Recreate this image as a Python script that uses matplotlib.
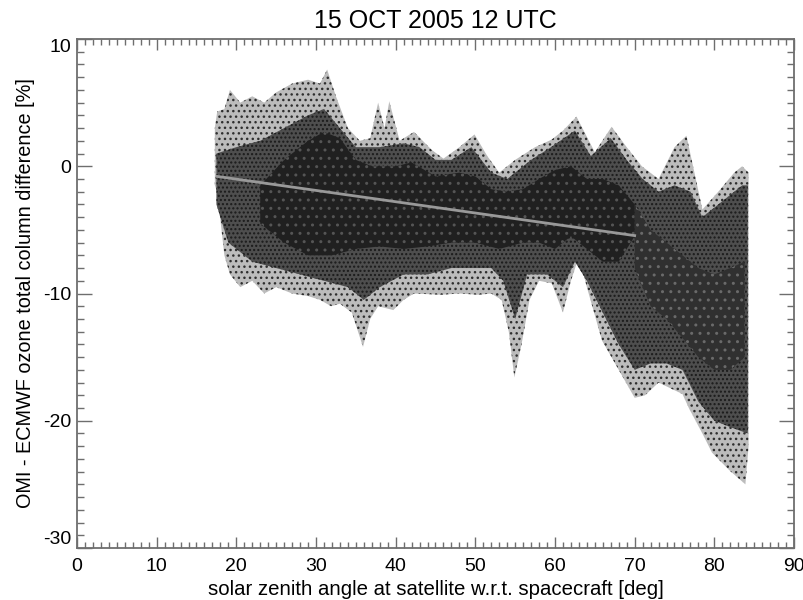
from __future__ import annotations

import matplotlib

matplotlib.use("Agg")
import matplotlib.pyplot as plt
import numpy as np
from matplotlib.ticker import MultipleLocator

plt.rcParams["font.family"] = ["Liberation Sans", "DejaVu Sans"]
plt.rcParams["axes.unicode_minus"] = False
plt.rcParams["hatch.linewidth"] = 1.0

# envelope of the sparse outer scatter
outer_top_x = [17.3, 17.6, 18.5, 19.2, 20.5, 22.0, 23.5, 25.0, 27.0, 29.0, 30.5, 31.4,
               32.5, 34.0, 35.5, 36.8, 37.8, 38.6, 39.2, 40.5, 42.3, 44.5, 46.0, 48.0,
               49.9, 51.5, 53.0, 55.0, 57.5, 59.6, 61.0, 62.7, 65.0, 67.1, 69.0, 70.9,
               73.0, 75.0, 76.5, 78.5, 80.5, 82.5, 83.5, 84.3]
outer_top_y = [3.0, 4.3, 4.5, 6.0, 5.0, 5.5, 5.0, 5.8, 6.5, 6.8, 6.5, 7.6,
               5.5, 3.0, 2.0, 2.2, 5.0, 3.0, 5.1, 2.0, 2.7, 1.3, 0.6, 1.5,
               2.5, 0.8, -0.5, 0.5, 1.5, 2.1, 2.8, 3.9, 1.1, 3.1, 1.5, 0.0,
               -1.0, 1.5, 2.4, -3.4, -2.0, -0.5, 0.0, -0.5]
outer_bot_x = [17.3, 17.6, 18.5, 19.2, 20.5, 22.0, 23.5, 25.0, 27.0, 29.0, 30.5, 31.9,
               33.0, 34.5, 35.9, 36.8, 37.8, 39.7, 41.0, 42.3, 45.7, 48.0, 50.4, 52.0,
               53.3, 54.2, 54.9, 55.8, 56.8, 58.0, 59.6, 61.0, 62.0, 63.0, 64.0, 65.9,
               68.0, 70.0, 71.3, 73.0, 76.0, 76.8, 78.5, 79.7, 81.9, 83.9, 84.3]
outer_bot_y = [-1.5, -2.0, -7.0, -8.5, -9.5, -9.0, -10.0, -9.5, -10.0, -10.2, -10.5, -11.0,
               -10.8, -11.5, -14.2, -12.0, -11.0, -11.3, -10.5, -10.0, -10.1, -10.0, -10.1, -10.0,
               -10.5, -13.0, -16.6, -14.0, -10.5, -9.0, -9.2, -11.5, -9.0, -7.1, -9.5, -13.7,
               -16.0, -18.2, -18.0, -17.0, -17.9, -19.0, -21.0, -22.5, -23.9, -25.0, -22.0]

# denser main body of the cloud
body_top_x = [17.5, 20.0, 23.0, 26.0, 29.0, 31.0, 33.0, 35.0, 38.0, 41.0, 43.0, 45.0,
              47.0, 49.5, 52.0, 54.0, 57.0, 59.5, 62.5, 64.5, 67.0, 69.0, 71.0, 73.0,
              75.0, 77.0, 78.5, 80.5, 83.5, 84.2]
body_top_y = [1.0, 1.5, 2.0, 3.0, 4.0, 4.5, 3.0, 1.5, 1.5, 1.8, 1.5, 0.5,
              0.5, 1.5, -0.5, -1.0, 0.5, 1.5, 2.8, 0.8, 2.2, 0.5, -1.0, -2.0,
              -1.5, -2.0, -4.0, -3.0, -1.5, -1.5]
body_bot_x = [17.5, 19.0, 22.0, 25.0, 28.0, 31.0, 34.0, 36.0, 38.0, 41.0, 44.0, 47.0,
              50.0, 52.0, 53.5, 55.0, 56.5, 59.0, 61.0, 62.5, 64.0, 66.0, 68.0, 70.0,
              72.0, 74.0, 76.0, 78.0, 80.0, 82.0, 84.2]
body_bot_y = [-3.0, -6.0, -7.5, -8.0, -8.5, -9.0, -9.5, -10.5, -9.5, -8.5, -8.5, -8.0,
              -8.0, -8.0, -9.0, -12.0, -8.5, -8.5, -9.5, -7.5, -9.0, -11.5, -14.0, -16.0,
              -15.5, -15.5, -16.0, -18.5, -20.0, -20.5, -21.0]

# darkest core where the points overlap
core_top_x = [23.0, 26.0, 29.0, 31.0, 33.0, 35.0, 37.0, 40.0, 42.0, 45.0, 48.0,
              50.0, 52.0, 54.0, 56.0, 58.0, 60.0, 62.0, 64.0, 66.0, 68.0, 70.0]
core_top_y = [-1.5, 0.5, 2.0, 2.7, 2.2, 0.5, 0.0, 0.0, 0.3, -0.8, -0.5,
              -0.8, -1.8, -2.0, -1.8, -1.0, -0.3, 0.0, -1.0, -1.0, -1.5, -3.0]
core_bot_x = [23.0, 26.0, 29.0, 32.0, 35.0, 38.0, 41.0, 44.0, 47.0, 50.0, 53.0,
              56.0, 58.0, 60.0, 62.0, 64.0, 66.0, 68.0, 70.0]
core_bot_y = [-4.5, -6.0, -7.0, -7.0, -6.5, -6.3, -6.5, -6.3, -6.0, -6.0, -6.5,
              -6.0, -6.0, -6.5, -5.5, -6.5, -7.5, -7.5, -5.5]

# dense band at high zenith angles
tail_top_x = [70.0, 72.0, 74.0, 76.0, 78.0, 80.0, 82.0, 83.8]
tail_top_y = [-3.0, -5.0, -6.0, -7.0, -8.0, -8.5, -8.0, -7.5]
tail_bot_x = [70.0, 72.0, 74.0, 76.0, 78.0, 80.0, 82.0, 83.8]
tail_bot_y = [-8.0, -11.0, -12.0, -13.5, -15.0, -16.0, -16.0, -15.0]

# linear fit drawn over the cloud
fit_x = [17.6, 70.0]
fit_y = [-0.8, -5.45]

x_ticks = [0, 10, 20, 30, 40, 50, 60, 70, 80, 90]
y_ticks = [-30, -20, -10, 0, 10]


def fill_band(ax, top_x, top_y, bot_x, bot_y, **kwargs):
    xs = np.concatenate([top_x, bot_x[::-1]])
    ys = np.concatenate([top_y, bot_y[::-1]])
    ax.fill(xs, ys, linewidth=0, **kwargs)


fig = plt.figure(figsize=(8.04, 6.0), dpi=100)
ax = fig.add_axes([77 / 804, 52 / 600, 717 / 804, 509 / 600])

# stippled layers to mimic the dense point cloud
fill_band(ax, outer_top_x, outer_top_y, outer_bot_x, outer_bot_y,
          facecolor="#bcbcbc", edgecolor="#2e2e2e", hatch="...", zorder=1)
fill_band(ax, body_top_x, body_top_y, body_bot_x, body_bot_y,
          facecolor="#4e4e4e", edgecolor="#1a1a1a", hatch="....", zorder=2)
fill_band(ax, tail_top_x, tail_top_y, tail_bot_x, tail_bot_y,
          facecolor="#303030", edgecolor="#6a6a6a", hatch="..", zorder=3)
fill_band(ax, core_top_x, core_top_y, core_bot_x, core_bot_y,
          facecolor="#202020", edgecolor="#555555", hatch="..", zorder=3)
ax.plot(fit_x, fit_y, color="#999999", linewidth=2.0, zorder=4)

ax.set_xlim(0, 90)
ax.set_ylim(-30, 10)
ax.set_xticks(x_ticks)
ax.set_yticks(y_ticks)
ax.xaxis.set_minor_locator(MultipleLocator(1))
ax.yaxis.set_minor_locator(MultipleLocator(1))

frame_color = "#6e6e6e"
for spine in ax.spines.values():
    spine.set_color(frame_color)
    spine.set_linewidth(1.3)
ax.tick_params(which="both", direction="in", top=True, right=True, color=frame_color,
               width=1.0, labelsize=14, labelcolor="black")
ax.tick_params(axis="x", which="major", length=8, pad=7)
ax.tick_params(axis="x", which="minor", length=4)
ax.tick_params(axis="y", which="major", length=10.5, pad=4)
ax.tick_params(axis="y", which="minor", length=5)

# end labels sit inside the axis range, as in the original
fig.canvas.draw()
ylabels = ax.get_yticklabels()
ylabels[0].set_va("bottom")
ylabels[-1].set_va("top")

ax.set_xlabel("solar zenith angle at satellite w.r.t. spacecraft [deg]", fontsize=14.7, labelpad=4)
ax.set_ylabel("OMI - ECMWF ozone total column difference [%]", fontsize=14.3, labelpad=6)
ax.set_title("15 OCT 2005 12 UTC", fontsize=18, pad=8)

fig.savefig("out.png", dpi=100)
